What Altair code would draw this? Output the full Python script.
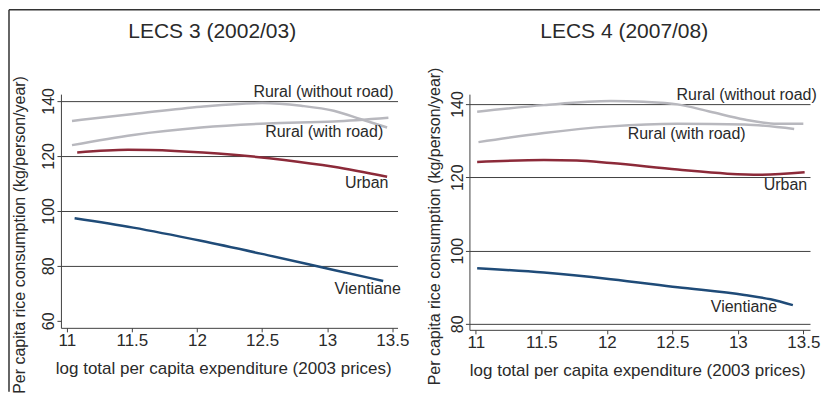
import altair as alt
import pandas as pd

series_names = ["Rural (without road)", "Rural (with road)", "Urban", "Vientiane"]
series_colors = ["#b8b8be", "#b8b8be", "#8c2a39", "#1f4b78"]

x_ticks = [11, 11.5, 12, 12.5, 13, 13.5]

# ---- LECS 3 (2002/03) ----
l3_rwo_x = [11.04, 11.51, 12.03, 12.50, 12.80, 13.05, 13.26, 13.46]
l3_rwo_y = [132.7, 135.2, 137.9, 139.2, 138.2, 136.4, 133.3, 130.3]
l3_rw_x = [11.04, 11.51, 12.03, 12.54, 13.05, 13.47]
l3_rw_y = [123.9, 127.6, 130.3, 131.8, 132.5, 133.9]
l3_urb_x = [11.08, 11.47, 11.83, 12.28, 12.67, 13.05, 13.46]
l3_urb_y = [121.2, 122.2, 121.8, 120.4, 118.5, 116.0, 112.4]
l3_vte_x = [11.06, 11.51, 12.03, 12.54, 13.05, 13.43]
l3_vte_y = [97.3, 93.9, 89.1, 83.9, 78.5, 74.5]
l3_label_x = [13.51, 13.43, 13.47, 13.565]
l3_label_y = [143.3, 128.7, 110.2, 71.6]
l3_y_ticks = [60, 80, 100, 120, 140]

# ---- LECS 4 (2007/08) ----
l4_rwo_x = [11.01, 11.52, 12.03, 12.28, 12.54, 12.79, 13.05, 13.30, 13.50]
l4_rwo_y = [137.9, 139.7, 140.8, 140.6, 139.9, 137.9, 135.8, 134.6, 134.6]
l4_rw_x = [11.02, 11.52, 12.03, 12.54, 13.05, 13.43]
l4_rw_y = [129.6, 132.1, 133.9, 134.6, 134.4, 133.2]
l4_urb_x = [11.01, 11.52, 11.77, 12.03, 12.54, 12.92, 13.17, 13.51]
l4_urb_y = [124.2, 124.7, 124.6, 123.9, 122.1, 121.0, 120.7, 121.4]
l4_vte_x = [11.01, 11.52, 12.03, 12.54, 13.05, 13.25, 13.42]
l4_vte_y = [95.2, 94.0, 92.2, 90.0, 87.9, 86.7, 85.1]
l4_label_x = [13.603, 13.06, 13.53, 13.30]
l4_label_y = [142.5, 131.8, 117.8, 84.7]
l4_y_ticks = [80, 100, 120, 140]

FONT = "Liberation Sans"
TXT = "#2a2a2a"
LINE = "#404040"


def lines_df(xs, ys):
    rows = []
    for name, xv, yv in zip(series_names, xs, ys):
        for a, b in zip(xv, yv):
            rows.append({"series": name, "x": a, "y": b})
    return pd.DataFrame(rows)


def labels_df(lx, ly):
    return pd.DataFrame({"series": series_names, "x": lx, "y": ly})


one = pd.DataFrame({"a": [0]})


def panel(ldf, tdf, xdomain, ydomain, yticks, width, height, title, title_x,
          ytitle_x, ytitle_y, xtitle_x, hide_first_grid, frame):
    X = alt.X("x:Q",
              scale=alt.Scale(domain=xdomain, nice=False, zero=False),
              axis=alt.Axis(values=x_ticks, format="~g", labelFlush=False,
                            labelFontSize=17, labelBaseline="alphabetic",
                            labelPadding=14, tickSize=4, grid=False,
                            title="log total per capita expenditure (2003 prices)",
                            titleFontSize=17, titleFontWeight="normal",
                            titleX=xtitle_x, titleY=46, titleAlign="center",
                            titleBaseline="alphabetic"))
    grid_op = ({"condition": {"test": f"datum.value == {yticks[0]}", "value": 0}, "value": 1}
               if hide_first_grid else 1)
    Y = alt.Y("y:Q",
              scale=alt.Scale(domain=ydomain, nice=False, zero=False),
              axis=alt.Axis(values=yticks, format="d", labelFlush=False,
                            labelFontSize=16, labelAngle=270, labelAlign="center",
                            labelBaseline="alphabetic", labelPadding=3, tickSize=4,
                            grid=True, gridColor=LINE, gridWidth=1, gridOpacity=grid_op,
                            title="Per capita rice consumption (kg/person/year)",
                            titleFontSize=16, titleFontWeight="normal",
                            titleAngle=270, titleX=ytitle_x, titleY=ytitle_y,
                            titleAlign="center", titleBaseline="alphabetic"))
    color = alt.Color("series:N", scale=alt.Scale(domain=series_names, range=series_colors),
                      legend=None)
    lines = alt.Chart(ldf).mark_line(interpolate="monotone", strokeWidth=2.5).encode(
        x=X, y=Y, color=color, detail="series:N")
    labels = alt.Chart(tdf).mark_text(align="right", baseline="middle", fontSize=16,
                                      font=FONT, color=TXT).encode(
        x=X, y=Y, text="series:N")
    ttl = alt.Chart(one).mark_text(text=title, fontSize=21, font=FONT, color=TXT,
                                   align="center", baseline="alphabetic").encode(
        x=alt.value(title_x), y=alt.value(-56.5))
    layers = [lines, labels, ttl]
    if frame:
        vline = alt.Chart(one).mark_rule(color="#333333", strokeWidth=1.5).encode(
            x=alt.value(-52), y=alt.value(-84.5), y2=alt.value(298))
        hline = alt.Chart(one).mark_rule(color="#333333", strokeWidth=1.5).encode(
            x=alt.value(-52), x2=alt.value(760), y=alt.value(-84.5))
        layers = [vline, hline] + layers
    return alt.layer(*layers).properties(width=width, height=height)


left = panel(lines_df([l3_rwo_x, l3_rw_x, l3_urb_x, l3_vte_x],
                      [l3_rwo_y, l3_rw_y, l3_urb_y, l3_vte_y]),
             labels_df(l3_label_x, l3_label_y),
             [10.955, 13.54], [57.45, 142.45], l3_y_ticks, 337, 234,
             "LECS 3 (2002/03)", 151.5, -36.7, 140.5, 162.5, True, True)

right = panel(lines_df([l4_rwo_x, l4_rw_x, l4_urb_x, l4_vte_x],
                       [l4_rwo_y, l4_rw_y, l4_urb_y, l4_vte_y]),
              labels_df(l4_label_x, l4_label_y),
              [10.951, 13.551], [78.36, 142.7], l4_y_ticks, 341, 236,
              "LECS 4 (2007/08)", 155, -30, 132, 168, False, False)

chart = alt.hconcat(left, right, spacing=72, bounds="flush").properties(
    padding=0
).configure_view(stroke=None).configure_axis(
    labelFont=FONT, titleFont=FONT, labelColor=TXT, titleColor=TXT,
    domainColor=LINE, tickColor=LINE, domainWidth=1, tickWidth=1
)

chart.save("out.html", embed_options={"renderer": "svg", "actions": False})
